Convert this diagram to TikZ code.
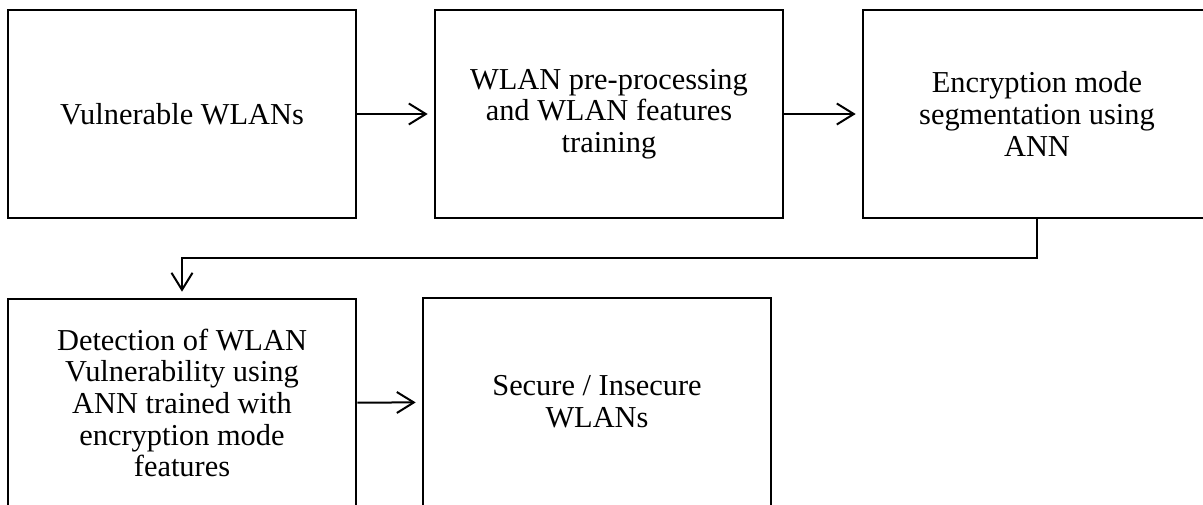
\documentclass[tikz,border=0pt]{standalone}
\usepackage{fontspec}
\setmainfont{Liberation Serif}
\usetikzlibrary{arrows.meta}
\begin{document}
\begin{tikzpicture}[x=1pt,y=-1pt,
  box/.style={draw=black, line width=2.6pt, minimum width=348pt, minimum height=208pt,
    align=center, inner sep=0pt, font=\fontsize{30.4}{31.7}\selectfont},
  conn/.style={line width=2pt, shorten >=6pt, -{Straight Barb[length=17pt,width=21pt,line width=2pt]}}]
\useasboundingbox (0,0) rectangle (1203,504);
\fill[white] (0,0) rectangle (1203,504);
\clip (0,0) rectangle (1203,504);
\node[box] (b1) at (182,114) {Vulnerable WLANs};
\node[box] (b2) at (609,114) {WLAN pre-processing\\and WLAN features\\training};
\node[box] (b3) at (1037,114) {Encryption mode\\segmentation using\\ANN};
\node[box] (b4) at (182,403) {Detection of WLAN\\Vulnerability using\\ANN trained with\\encryption mode\\features};
\node[box] (b5) at (597,402) {Secure / Insecure\\WLANs};
\coordinate (m1) at (1037,258);
\coordinate (m2) at (182,258);
\draw[conn] (b1) -- (b2);
\draw[conn] (b2) -- (b3);
\draw[conn] (b3.south) -- (m1) -- (m2) -- (b4.north);
\draw[conn] (b4) -- (b5);
\end{tikzpicture}
\end{document}
